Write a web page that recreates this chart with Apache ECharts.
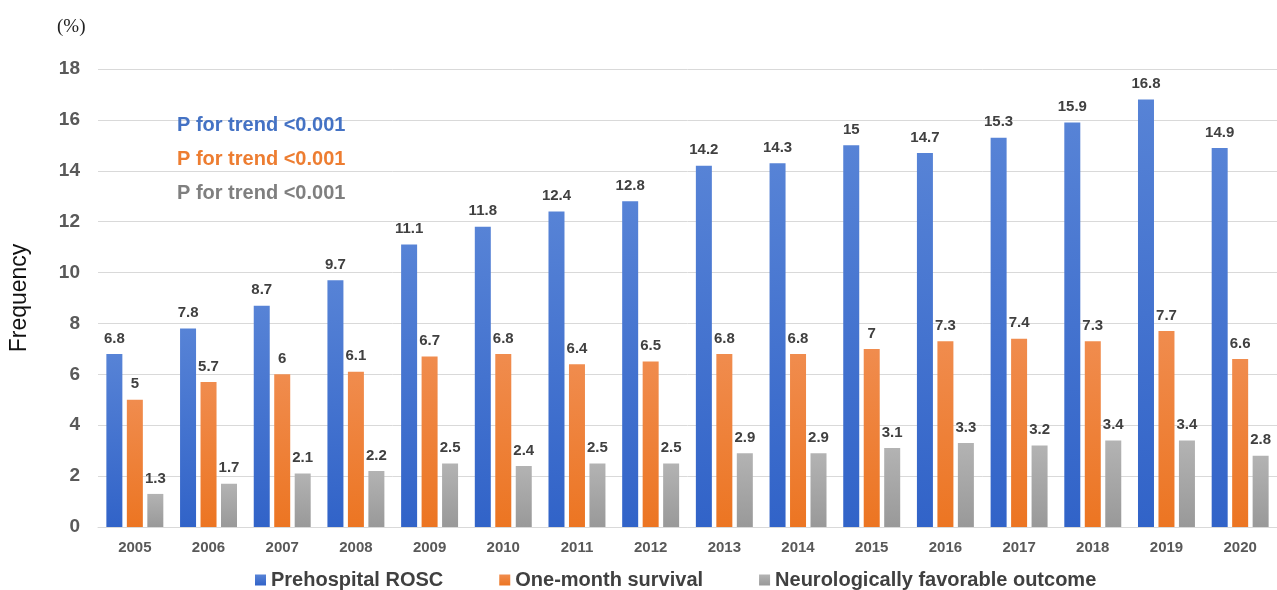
<!DOCTYPE html>
<html>
<head>
<meta charset="utf-8">
<title>Outcomes by year</title>
<script src="https://cdn.jsdelivr.net/npm/echarts@6/dist/echarts.min.js"></script>
<style>
  html, body { margin: 0; padding: 0; background: #fff; }
  #chart { width: 1277px; height: 590px; }
</style>
</head>
<body>
<div id="chart"></div>
<script>
// 年份与三组比例 (%)
var years = ['2005', '2006', '2007', '2008', '2009', '2010', '2011', '2012',
             '2013', '2014', '2015', '2016', '2017', '2018', '2019', '2020'];
var rosc = [6.8, 7.8, 8.7, 9.7, 11.1, 11.8, 12.4, 12.8, 14.2, 14.3, 15, 14.7, 15.3, 15.9, 16.8, 14.9];
var survival = [5, 5.7, 6, 6.1, 6.7, 6.8, 6.4, 6.5, 6.8, 6.8, 7, 7.3, 7.4, 7.3, 7.7, 6.6];
var neuro = [1.3, 1.7, 2.1, 2.2, 2.5, 2.4, 2.5, 2.5, 2.9, 2.9, 3.1, 3.3, 3.2, 3.4, 3.4, 2.8];
var seriesNames = ['Prehospital ROSC', 'One-month survival', 'Neurologically favorable outcome'];
var trendText = 'P for trend <0.001';

function grad(top, bottom) {
    return new echarts.graphic.LinearGradient(0, 0, 0, 1, [
        { offset: 0, color: top },
        { offset: 1, color: bottom }
    ]);
}

var labelStyle = {
    show: true,
    position: 'top',
    distance: 8,
    fontFamily: 'Arial, Liberation Sans, sans-serif',
    fontSize: 15,
    fontWeight: 'bold',
    color: '#404040'
};

function makeBar(name, data, color) {
    return {
        name: name,
        type: 'bar',
        data: data,
        barWidth: 16,
        barGap: '28%',
        itemStyle: { color: color },
        label: labelStyle
    };
}

var myChart = echarts.init(document.getElementById('chart'));
var option = {
    animation: false,
    textStyle: { fontFamily: 'Arial, Liberation Sans, sans-serif' },
    grid: { left: 98, right: -5, top: 69, bottom: 63 },
    legend: {
        bottom: -5,
        left: 250,
        itemWidth: 11,
        itemHeight: 11,
        itemGap: 56,
        icon: 'rect',
        textStyle: { fontSize: 20, color: '#404040', fontWeight: 'bold' },
        data: seriesNames
    },
    title: [
        { text: '(%)', left: 52, top: 13, textStyle: { fontSize: 19, fontWeight: 'normal', color: '#222', fontFamily: 'Liberation Serif, serif' } },
        { text: trendText, left: 172, top: 110, textStyle: { fontSize: 20, fontWeight: 'bold', color: '#4472C4' } },
        { text: trendText, left: 172, top: 144, textStyle: { fontSize: 20, fontWeight: 'bold', color: '#ED7D31' } },
        { text: trendText, left: 172, top: 178, textStyle: { fontSize: 20, fontWeight: 'bold', color: '#7F7F7F' } }
    ],
    xAxis: {
        type: 'category',
        data: years,
        axisTick: { show: false },
        axisLine: { lineStyle: { color: '#d9d9d9', width: 1 } },
        axisLabel: { fontSize: 15, fontWeight: 'bold', color: '#595959', margin: 13 }
    },
    yAxis: {
        type: 'value',
        min: 0,
        max: 18,
        interval: 2,
        name: 'Frequency',
        nameLocation: 'middle',
        nameGap: 67,
        nameTextStyle: { fontSize: 23, color: '#111' },
        axisLine: { show: false },
        axisTick: { show: false },
        axisLabel: { fontSize: 19, fontWeight: 'bold', color: '#595959', margin: 18 },
        splitLine: { lineStyle: { color: '#d9d9d9', width: 1 } }
    },
    series: [
        makeBar(seriesNames[0], rosc, grad('#5783d6', '#3163c8')),
        makeBar(seriesNames[1], survival, grad('#f08c4e', '#ec7522')),
        makeBar(seriesNames[2], neuro, grad('#b3b3b3', '#999999'))
    ]
};
myChart.setOption(option);
window.onresize = function () {
    myChart.resize();
};
</script>
</body>
</html>
